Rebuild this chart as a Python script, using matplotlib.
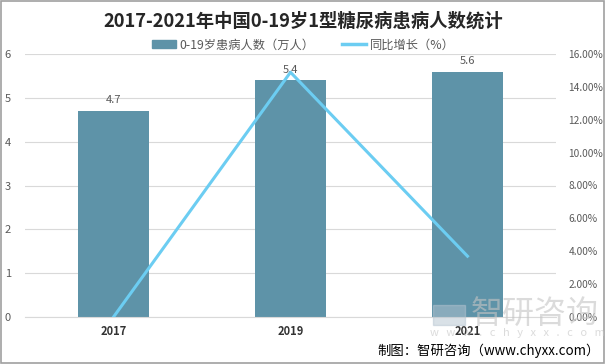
import matplotlib.pyplot as plt
from matplotlib.patches import Rectangle
from matplotlib.lines import Line2D

plt.rcParams['font.family'] = ['Noto Sans CJK SC', 'DejaVu Sans']

years = ['2017', '2019', '2021']
patients = [4.7, 5.4, 5.6]          # 万人
growth = [0.0, 14.89, 3.70]         # %

bar_color = '#5e93a8'
line_color = '#6ccdf2'

fig = plt.figure(figsize=(6.06, 3.64), dpi=100)
ax = fig.add_axes([25 / 606, 1 - 317 / 364, 531 / 606, 263 / 364])
ax2 = ax.twinx()

x = range(len(years))
ax.bar(x, patients, width=0.4, color=bar_color, zorder=2)
for xi, v in zip(x, patients):
    ax.text(xi, v + 0.13, f'{v}', ha='center', va='bottom', fontsize=8, color='#595959')

ax2.plot(x, growth, color=line_color, linewidth=2.2, zorder=3)

ax.set_xlim(-0.5, 2.5)
ax.set_ylim(0, 6)
ax2.set_ylim(0, 16)
ax.set_yticks(range(0, 7))
ax2.set_yticks(range(0, 17, 2))
ax2.set_yticklabels([f'{t:.2f}%' for t in range(0, 17, 2)])
ax.set_xticks(list(x))
ax.set_xticklabels(years, fontsize=8, fontweight='bold', color='#333333')

ax.grid(axis='y', color='#d9d9d9', linewidth=0.8, zorder=0)
ax.set_axisbelow(True)
for a in (ax, ax2):
    for s in a.spines.values():
        s.set_visible(False)
    a.tick_params(length=0, labelsize=8, colors='#595959')
ax2.tick_params(axis='y', labelsize=7.3, pad=9)
ax.spines['bottom'].set_visible(True)
ax.spines['bottom'].set_color('#d9d9d9')
ax.tick_params(axis='y', pad=10)
ax.tick_params(axis='x', colors='#333333', pad=6)

fig.text(0.5, 1 - 21 / 364, '2017-2021年中国0-19岁1型糖尿病患病人数统计',
         ha='center', va='center', fontsize=13.2, fontweight='bold', color='#262626')

handles = [Rectangle((0, 0), 1, 1, color=bar_color),
           Line2D([], [], color=line_color, linewidth=2.5)]
fig.legend(handles, ['0-19岁患病人数（万人）', '同比增长（%）'], loc='center',
           bbox_to_anchor=(0.5, 1 - 45 / 364), ncol=2, frameon=False,
           fontsize=8.8, handlelength=2.0, handleheight=0.6, columnspacing=2.2,
           handletextpad=0.3, labelcolor='#595959')

# watermark
fig.text(535 / 606, 1 - 314 / 364, '智研咨询', ha='center', va='center', fontsize=23,
         color='#c4c4c4', alpha=0.6)
fig.text(517 / 606, 1 - 333 / 364, 'w   w   w   .   c   h   y   x   x   .   c   o   m',
         ha='center', va='center', fontsize=8, color='#c4c4c4', alpha=0.6)
fig.patches.append(Rectangle((433 / 606, 1 - 325 / 364), 32 / 606, 20 / 364,
                             transform=fig.transFigure, color='#b5c4d0', alpha=0.5))

fig.text(600 / 606, 1 - 351 / 364, '制图：智研咨询（www.chyxx.com）', ha='right', va='center',
         fontsize=9.6, color='#000000')

fig.patches.append(Rectangle((0.002, 0.003), 0.995, 0.993, transform=fig.transFigure,
                             fill=False, edgecolor='#a0a0a0', linewidth=1.2))

fig.savefig('out.png', dpi=100)
